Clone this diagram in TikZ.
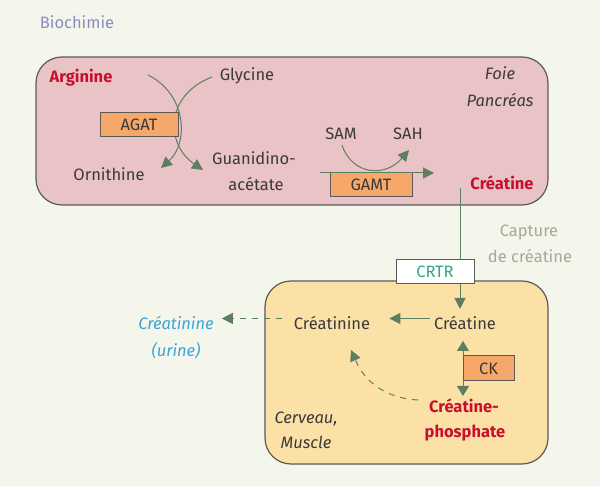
\documentclass[tikz,border=0pt]{standalone}
\usepackage{fontspec}
\setmainfont{Fira Sans}
\usetikzlibrary{arrows.meta,calc}
\definecolor{bgc}{HTML}{F4F6EC}
\definecolor{pinkc}{HTML}{E9C3C6}
\definecolor{yelc}{HTML}{FBE1A6}
\definecolor{boxb}{HTML}{5A5A5A}
\definecolor{orc}{HTML}{F5A86A}
\definecolor{grc}{HTML}{5E7E60}
\definecolor{redc}{HTML}{C8102E}
\definecolor{txtc}{HTML}{3A3A3A}
\definecolor{lavc}{HTML}{8A8CC0}
\definecolor{capc}{HTML}{A3AA96}
\definecolor{tealc}{HTML}{2FA883}
\definecolor{bluec}{HTML}{3DA4D8}
\tikzset{
  fsz/.style={font=\fontsize{16.5}{19}\selectfont},
  txt/.style={font=\fontsize{16.5}{19}\selectfont, text=txtc, anchor=base, inner sep=0pt},
  redtxt/.style={txt, text=redc, font=\fontsize{16.5}{19}\selectfont\bfseries},
  ittxt/.style={txt, font=\fontsize{16.5}{19}\selectfont\itshape},
  enzbox/.style={draw=boxb, line width=1pt, fill=orc, font=\fontsize{16.5}{19}\selectfont, text=txtc, inner sep=0pt},
  conn/.style={draw=grc, line width=1pt, -{Triangle[length=11pt,width=11pt]}},
  dconn/.style={conn, dash pattern=on 6pt off 6pt},
  organ/.style={draw=boxb, line width=1.2pt, rounded corners=26pt}
}
\begin{document}
\begin{tikzpicture}[x=1pt,y=-1pt]
\fill[bgc] (0,0) rectangle (600,486);
\useasboundingbox (0,0) rectangle (600,486);
\node[txt, text=lavc] (bio) at (77,29) {Biochimie};
% top box
\draw[organ, fill=pinkc] (36,57) rectangle (548,205);
\node[redtxt] (arg) at (81,83) {Arginine};
\node[txt] (gly) at (247,81) {Glycine};
\node[txt] (orn) at (109,181) {Ornithine};
\node[txt] (gua) at (254,165) {Guanidino-};
\node[txt] (ace) at (256,191) {acétate};
\node[ittxt] (foie) at (500,80) {Foie};
\node[ittxt] (panc) at (500,107) {Pancréas};
\coordinate (a1) at (148,75);
\coordinate (a2) at (161,168);
\coordinate (g1) at (212,77);
\coordinate (g2) at (203,170);
\draw[conn] (a1) .. controls (188,95) and (188,144) .. (a2);
\draw[conn] (g1) .. controls (165,95) and (165,144) .. (g2);
\node[enzbox, minimum width=78pt, minimum height=24pt] (agat) at (139,125) {AGAT};
% GAMT
\node[txt] (sam) at (341,140) {SAM};
\node[txt] (sah) at (408,140) {SAH};
\node[enzbox, minimum width=82pt, minimum height=24pt] (gamt) at (371,185) {GAMT};
\coordinate (l1) at (320,173);
\coordinate (l2) at (434,173);
\draw[conn] (l1) -- (l2);
\coordinate (s1) at (342,145);
\coordinate (s2) at (409,150);
\draw[conn] (s1) .. controls (352,175) and (385,178) .. (s2);
\node[redtxt] (crea) at (502,190) {Créatine};
% capture
\node[txt, text=capc] (capt) at (529,237) {Capture};
\node[txt, text=capc] (decr) at (530,263) {de créatine};
% bottom box
\draw[organ, fill=yelc] (265,281) rectangle (548,464);
\node[txt] (crb) at (465,330) {Créatine};
\node[txt] (crn) at (332,330) {Créatinine};
\coordinate (vtop) at (460,188);
\coordinate (vbot) at (460,309);
\draw[conn] (vtop) -- (vbot);
\node[draw=boxb, line width=1pt, fill=white, text=tealc, font=\fontsize{16.5}{19}\selectfont, minimum width=78pt, minimum height=24pt, inner sep=0pt] (crtr) at (435,272) {CRTR};
\draw[conn] ($(crb.west)+(-4,-5)$) coordinate (cbw) -- ($(crn.east)+(19,-5)$) coordinate (cne);
\node[ittxt, text=bluec] (uri1) at (176,330) {Créatinine};
\node[ittxt, text=bluec] (uri2) at (176,356) {(urine)};
\draw[dconn] ($(crn.west)+(-12,-5)$) coordinate (cnw) -- ($(uri1.east)+(8,-5)$) coordinate (ue);
\node[redtxt] (cp1) at (464,413) {Créatine-};
\node[redtxt] (cp2) at (465,437) {phosphate};
\node[ittxt] (cer) at (306,423) {Cerveau,};
\node[ittxt] (mus) at (306,448) {Muscle};
\coordinate (ck1) at (463,341);
\coordinate (ck2) at (463,396);
\draw[draw=grc, line width=1pt, {Triangle[length=10pt,width=12pt]}-{Triangle[length=10pt,width=12pt]}] (ck1) -- (ck2);
\node[enzbox, minimum width=51pt, minimum height=25pt] (ck) at (488.5,368.5) {CK};
\coordinate (d1) at (418,400);
\coordinate (d2) at (351,350);
\draw[dconn] (d1) .. controls (385,398) and (365,382) .. (d2);
\end{tikzpicture}
\end{document}
